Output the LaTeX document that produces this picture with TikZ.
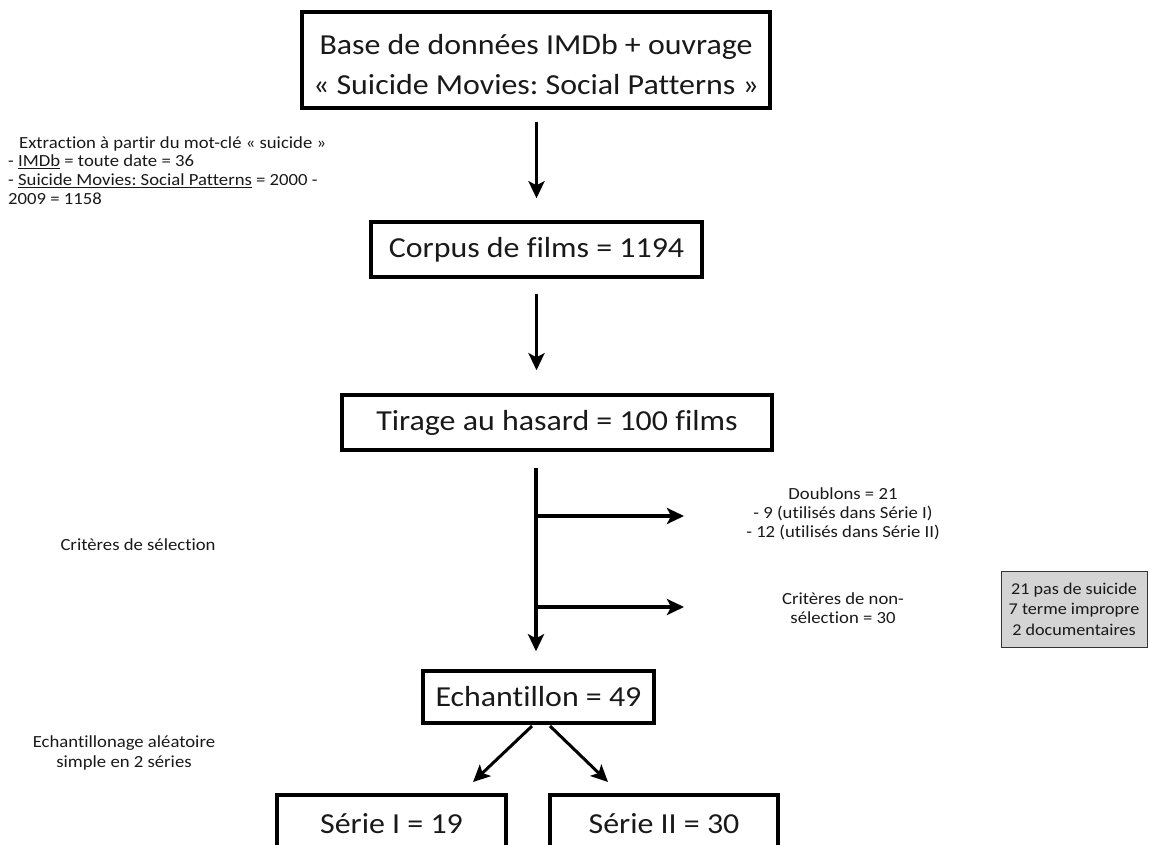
\documentclass[tikz,border=0pt]{standalone}
\usepackage{fontspec}
\setmainfont[FakeStretch=1.1,Ligatures=NoCommon]{Carlito}
\usetikzlibrary{arrows.meta}
\begin{document}
\frenchspacing
\begin{tikzpicture}[x=1pt,y=-1pt,
  bigbox/.style={draw=black,line width=3.5pt,inner sep=0pt,align=center,
    font=\fontsize{29}{40}\selectfont,text=black!90},
  bigtext/.style={inner sep=0pt,align=center,font=\fontsize{29}{40}\selectfont,text=black!90},
  small/.style={inner sep=0pt,align=center,font=\fontsize{17}{18.8}\selectfont,text=black!90},
  graybox/.style={draw=black!80,line width=1pt,fill=black!17,inner sep=0pt,align=center,
    font=\fontsize{16.5}{20.5}\selectfont,text=black!90},
  arr/.style={line width=3.5pt,-{Stealth[length=17pt,width=16pt,inset=4pt]}}
]
\useasboundingbox (0,0) rectangle (1150,845);

% boxes
\node[bigbox,minimum width=468pt,minimum height=96pt] (top) at (536,60) {};
\node[bigtext] (toptxt) at (536,65)
  {Base de données IMDb + ouvrage\\« Suicide Movies: Social Patterns »};
\node[bigbox,minimum width=331pt,minimum height=55pt] (corpus) at (536.5,249.5)
  {Corpus de films = 1194};
\node[bigbox,minimum width=430pt,minimum height=55pt] (tirage) at (557,422.5)
  {Tirage au hasard = 100 films};
\node[bigbox,minimum width=231pt,minimum height=52pt] (echant) at (538.5,697)
  {Echantillon = 49};
\node[bigbox,minimum width=229pt,minimum height=58pt] (serie1) at (391.5,824)
  {Série I = 19};
\node[bigbox,minimum width=228pt,minimum height=58pt] (serie2) at (664,824)
  {Série II = 30};
\node[graybox,minimum width=146pt,minimum height=76pt] (gray) at (1074,609)
  {21 pas de suicide\\7 terme impropre\\2 documentaires};

% side texts
\node[small,align=left,anchor=north west] (extr) at (8,136)
  {\hspace{11pt}Extraction à partir du mot-clé « suicide »\\
   - \underline{IMDb} = toute date = 36\\
   - \underline{Suicide Movies: Social Patterns} = 2000 -\\
   2009 = 1158};
\node[small] (crit) at (138,545) {Critères de sélection};
\node[small,font=\fontsize{17}{19.8}\selectfont] (echtxt) at (124,753) {Echantillonage aléatoire\\simple en 2 séries};
\node[small] (doub) at (843,514) {Doublons = 21\\- 9 (utilisés dans Série I)\\- 12 (utilisés dans Série II)};
\node[small] (nonsel) at (843,608) {Critères de non-\\sélection = 30};

% connectors
\draw[arr] ([yshift=-12pt]top.south -| corpus.north) -- ([yshift=22pt]corpus.north);
\draw[arr] ([yshift=-15pt]corpus.south) -- ([yshift=23pt]corpus.south |- tirage.north);
\coordinate (t0) at (536,468);
\coordinate (b1) at (536,516);
\coordinate (b2) at (536,607);
\coordinate (e1) at (684,516);
\coordinate (e2) at (684,607);
\coordinate (s1) at (532,726);
\coordinate (s2) at (550,726);
\coordinate (f1) at (473,782);
\coordinate (f2) at (608,782);
\draw[arr] (t0) -- ([yshift=18pt]t0 |- echant.north);
\draw[arr] (b1) -- (e1);
\draw[arr] (b2) -- (e2);
\draw[arr,line width=3pt] (s1) -- (f1);
\draw[arr,line width=3pt] (s2) -- (f2);
\end{tikzpicture}
\end{document}
